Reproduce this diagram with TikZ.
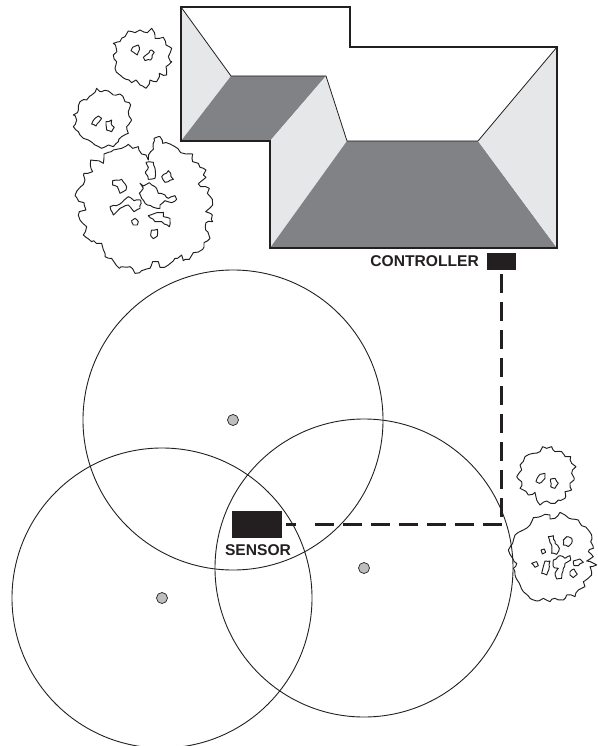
\documentclass[tikz,border=0pt]{standalone}
\usepackage{fontspec}
\setmainfont{Liberation Sans}
\usetikzlibrary{decorations.pathmorphing}
\definecolor{roofdark}{RGB}{128,130,133}
\definecolor{rooflight}{RGB}{230,231,232}
\definecolor{blockblack}{RGB}{35,31,32}
\definecolor{dotgray}{RGB}{188,190,192}
\tikzset{
  roofline/.style={draw=blockblack,line width=0.8pt},
  wall/.style={draw=blockblack,line width=1.4pt,line join=miter},
  zone/.style={draw=blockblack,line width=0.9pt},
  hub/.style={circle,draw=blockblack,line width=0.7pt,fill=dotgray,minimum size=11pt,inner sep=0pt},
  block/.style={rectangle,fill=blockblack,inner sep=0pt},
  lab/.style={font=\bfseries\fontsize{15.6}{17}\selectfont,text=blockblack,inner sep=0pt},
  link/.style={draw=blockblack,line width=2.2pt,dash pattern=on 18.8pt off 9.2pt},
  linkend/.style={draw=blockblack,line width=2.2pt},
  leaf/.style={draw=blockblack,line width=0.95pt,line join=round,decorate,decoration={random steps,segment length=4pt,amplitude=1.3pt}},
  hole/.style={draw=blockblack,line width=0.95pt,line join=round,decorate,decoration={random steps,segment length=3pt,amplitude=0.7pt}}
}
\pgfmathsetseed{7}
\begin{document}
\begin{tikzpicture}[x=1pt,y=-1pt]
\useasboundingbox (0,0) rectangle (597,746);
% roof
\fill[rooflight] (181,7) -- (231,76) -- (181,141) -- cycle;
\fill[roofdark] (231,76) -- (326,76) -- (270,141) -- (181,141) -- cycle;
\fill[rooflight] (326,76) -- (347,141) -- (270,248) -- (270,141) -- cycle;
\fill[roofdark] (347,141) -- (478,141) -- (557,248) -- (270,248) -- cycle;
\fill[rooflight] (557,47) -- (478,141) -- (557,248) -- cycle;
\draw[roofline] (181,7) -- (231,76) -- (326,76) -- (347,141) -- (478,141) -- (557,47);
\draw[wall] (181,7) -- (350,7) -- (350,47) -- (557,47) -- (557,248) -- (270,248) -- (270,141) -- (181,141) -- cycle;
% zones
\draw[zone] (233,420) circle (150);
\draw[zone] (162,598) circle (150);
\draw[zone] (364,568) circle (149);
\node[hub] (h1) at (233,420) {};
\node[hub] (h2) at (162,598) {};
\node[hub] (h3) at (364,568) {};
% blocks
\node[block,minimum width=29.5pt,minimum height=16.5pt] (ctrl) at (501.5,261.5) {};
\node[block,minimum width=50pt,minimum height=26.5pt] (sensor) at (257,524.5) {};
\node[lab,anchor=base east] (ctrltext) at (479,266.5) {CONTROLLER};
\node[lab,anchor=base] (senstext) at (258,555) {SENSOR};
% connector
\coordinate (corner) at (ctrl.south |- sensor.east);
\coordinate (gapa) at (314,524.5);
\coordinate (gapb) at (296,524.5);
\draw[link,shorten <=4.5pt] (ctrl.south) -- (corner);
\draw[link] (corner) -- (gapa);
\draw[linkend,shorten >=3.5pt] (gapb) -- (sensor.east);
% tree 1
\begin{scope}[shift={(60,20)},scale=1/3]
\draw[leaf] (205,33)--(225,38)--(240,30)--(262,38)--(275,25)--(285,55)--(310,52)--(318,75)--(335,85)--(325,110)--(335,125)--(318,140)--(320,165)--(298,160)--(290,185)--(270,180)--(258,205)--(240,195)--(228,180)--(215,188)--(198,178)--(180,165)--(165,145)--(170,125)--(160,105)--(170,90)--(160,70)--(180,65)--(195,50)--cycle;
\draw[hole] (218,82)--(235,75)--(238,90)--(232,105)--(222,98)--(213,92)--cycle;
\draw[hole] (258,105)--(275,90)--(283,97)--(272,120)--(255,122)--(250,112)--cycle;
% tree 2
\draw[leaf] (110,205)--(125,215)--(145,213)--(160,225)--(180,222)--(195,245)--(212,255)--(205,275)--(215,300)--(200,320)--(205,340)--(185,350)--(175,365)--(160,380)--(145,375)--(125,385)--(105,375)--(85,360)--(70,355)--(60,345)--(40,320)--(50,300)--(40,285)--(55,270)--(60,245)--(80,240)--(95,225)--cycle;
\draw[hole] (105,295)--(115,288)--(125,295)--(118,305)--(108,318)--(95,312)--cycle;
\draw[hole] (138,305)--(155,300)--(155,315)--(163,322)--(155,335)--(140,330)--cycle;
\end{scope}
% tree 3
\begin{scope}[shift={(60,130)},scale=1/3]
\draw[leaf] (205,43)--(218,55)--(235,50)--(245,72)--(258,75)--(265,90)--(272,65)--(280,58)--(282,25)--(300,20)--(308,40)--(330,42)--(345,50)--(362,68)--(378,72)--(398,72)--(398,95)--(415,100)--(420,112)--(438,120)--(430,135)--(438,142)--(415,162)--(422,170)--(448,175)--(442,190)--(457,208)--(458,225)--(437,245)--(457,255)--(458,275)--(438,278)--(437,300)--(450,325)--(432,338)--(428,358)--(400,368)--(388,388)--(370,392)--(365,375)--(345,385)--(325,405)--(300,412)--(295,395)--(278,395)--(270,415)--(245,422)--(225,430)--(210,410)--(178,415)--(165,400)--(155,385)--(135,380)--(125,340)--(95,335)--(70,315)--(80,290)--(60,270)--(58,245)--(78,240)--(72,218)--(55,212)--(45,197)--(62,170)--(75,150)--(72,130)--(98,125)--(92,90)--(108,92)--(130,100)--(132,72)--(160,60)--(185,55)--cycle;
\draw[hole] (258,97)--(280,97)--(285,115)--(285,145)--(265,148)--(257,125)--(265,112)--cycle;
\draw[hole] (305,140)--(325,122)--(340,148)--(325,155)--(315,157)--cycle;
\draw[hole] (158,152)--(185,148)--(200,170)--(198,180)--(180,190)--(172,170)--(158,165)--cycle;
\draw[hole] (240,160)--(250,168)--(268,158)--(285,170)--(295,190)--(315,195)--(325,205)--(345,197)--(350,208)--(335,218)--(315,212)--(300,225)--(300,235)--(280,232)--(262,225)--(245,205)--(238,190)--(250,175)--cycle;
\draw[hole] (150,230)--(180,222)--(205,200)--(222,212)--(242,210)--(240,235)--(222,245)--(205,225)--(180,235)--(160,255)--cycle;
\draw[hole] (265,257)--(285,250)--(310,247)--(310,260)--(330,265)--(328,290)--(305,275)--(285,275)--cycle;
\draw[hole] (215,272)--(225,265)--(235,275)--(232,285)--(220,285)--cycle;
\draw[hole] (275,300)--(292,298)--(292,318)--(280,326)--(272,315)--cycle;
\end{scope}
% trees 4, 5
\begin{scope}[shift={(500,435)},scale=1/3]
\draw[leaf] (128,35)--(140,40)--(155,35)--(165,50)--(185,50)--(195,65)--(212,65)--(215,85)--(228,95)--(215,115)--(222,135)--(210,145)--(215,165)--(195,170)--(195,190)--(175,195)--(165,205)--(140,198)--(120,210)--(110,195)--(105,172)--(85,180)--(70,165)--(60,160)--(65,140)--(50,125)--(65,105)--(60,90)--(75,65)--(100,55)--(120,50)--cycle;
\draw[hole] (108,140)--(120,118)--(135,115)--(135,130)--(118,145)--cycle;
\draw[hole] (152,132)--(165,130)--(175,145)--(165,160)--(152,155)--cycle;
\draw[leaf] (90,270)--(100,248)--(125,243)--(135,238)--(150,240)--(150,252)--(165,250)--(180,232)--(195,240)--(215,252)--(235,255)--(245,272)--(265,285)--(275,300)--(272,320)--(280,340)--(265,350)--(280,365)--(260,378)--(290,390)--(270,395)--(275,420)--(250,440)--(255,455)--(235,465)--(225,485)--(200,480)--(190,495)--(165,490)--(150,500)--(130,490)--(110,498)--(90,490)--(70,470)--(55,440)--(45,420)--(40,400)--(50,385)--(38,370)--(25,345)--(38,325)--(45,300)--(70,285)--cycle;
\draw[hole] (145,305)--(160,302)--(165,325)--(178,340)--(170,358)--(155,355)--(155,330)--cycle;
\draw[hole] (190,315)--(200,305)--(215,310)--(215,325)--(205,335)--(190,330)--cycle;
\draw[hole] (123,345)--(133,342)--(137,352)--(127,357)--cycle;
\draw[hole] (95,385)--(110,380)--(115,392)--(105,397)--cycle;
\draw[hole] (135,378)--(150,378)--(148,395)--(140,420)--(125,415)--(130,395)--cycle;
\draw[hole] (160,375)--(180,362)--(195,370)--(210,362)--(212,375)--(195,385)--(190,400)--(185,430)--(170,432)--(165,415)--(175,400)--(160,395)--cycle;
\draw[hole] (220,378)--(240,372)--(250,382)--(235,392)--(222,392)--cycle;
\draw[hole] (210,410)--(222,402)--(232,418)--(220,428)--(210,420)--cycle;
\end{scope}
\end{tikzpicture}
\end{document}
